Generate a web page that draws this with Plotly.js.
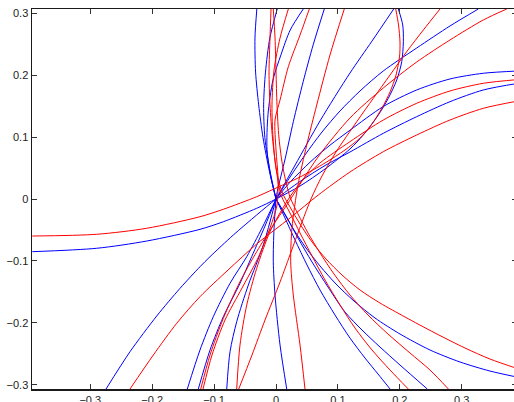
<!DOCTYPE html>
<html>
<head>
<meta charset="utf-8">
<script src="https://cdn.plot.ly/plotly-3.0.1.min.js"></script>
<style>
html,body{margin:0;padding:0;overflow:hidden;background:#fff;}
#chart{width:520px;height:412px;}
</style>
</head>
<body>
<div id="chart"></div>
<script>
// ---- tick values ----
const xTicks = [-0.3, -0.2, -0.1, 0, 0.1, 0.2, 0.3];
const yTicks = [-0.3, -0.2, -0.1, 0, 0.1, 0.2, 0.3];

// ---- blue curves ----
const bLx = [-0.3937, -0.2897, -0.2089, -0.1228, -0.0851, -0.0312, 0, 0.0388, 0.0792, 0.1195, 0.1410, 0.1653, 0.1814, 0.1950, 0.2031, 0.2057, 0.2047, 0.1976];
const bLy = [-0.0851, -0.0796, -0.0679, -0.0490, -0.0367, -0.0150, 0, 0.0210, 0.0485, 0.0808, 0.1034, 0.1357, 0.1627, 0.1922, 0.2218, 0.2541, 0.2811, 0.3069];
const bAx = [-0.2746, -0.2359, -0.1927, -0.1551, -0.1228, -0.1066, -0.0690, -0.0312, 0, 0.0388, 0.0792, 0.1195, 0.1733, 0.2273, 0.2811, 0.3349, 0.392];
const bAy = [-0.3069, -0.2467, -0.1890, -0.1443, -0.1094, -0.0932, -0.0582, -0.0258, 0, 0.0283, 0.0541, 0.0759, 0.1061, 0.1330, 0.1572, 0.1761, 0.1870];
const bBx = [0, 0.0226, 0.0549, 0.0872, 0.1195, 0.1733, 0.2273, 0.2811, 0.3349, 0.392];
const bBy = [0, 0.0271, 0.0594, 0.0869, 0.1111, 0.1494, 0.1761, 0.1939, 0.2031, 0.2068];
const bCx = [0, 0.0226, 0.0468, 0.0743, 0.1034, 0.1357, 0.1733, 0.2273, 0.2811, 0.3268];
const bCy = [0, 0.0355, 0.0711, 0.1082, 0.1422, 0.1745, 0.2068, 0.2439, 0.2795, 0.3069];
const bDx = [0, 0.031, 0.071, 0.1195, 0.155, 0.1901];
const bDy = [0, 0.055, 0.126, 0.2035, 0.255, 0.3069];
const bEx = [0, 0.002, 0.015, 0.028, 0.044, 0.060, 0.078];
const bEy = [0, 0.012, 0.066, 0.125, 0.190, 0.249, 0.3069];
const bFx = [0, -0.008, -0.0145, -0.013, -0.005, 0.008, 0.023, 0.044];
const bFy = [0, 0.034, 0.079, 0.136, 0.192, 0.233, 0.273, 0.3069];
const bGx = [0, -0.010, -0.018, -0.020, -0.017, -0.010, 0.002];
const bGy = [0, 0.047, 0.099, 0.152, 0.205, 0.260, 0.3069];
const bHx = [0, -0.0105, -0.021, -0.028, -0.033, -0.034, -0.031];
const bHy = [0, 0.044, 0.099, 0.152, 0.205, 0.260, 0.3069];
const bIx = [0, -0.0226, -0.0473, -0.0743, -0.1013, -0.1228, -0.1433];
const bIy = [0, -0.0468, -0.0932, -0.1362, -0.1901, -0.2439, -0.3069];
const bJx = [0, -0.0178, -0.0393, -0.0582, -0.0851, -0.1066, -0.1255];
const bJy = [0, -0.0436, -0.0932, -0.1362, -0.1901, -0.2439, -0.3069];
const bKx = [0, -0.0205, -0.0447, -0.0635, -0.0743, -0.0796];
const bKy = [0, -0.0743, -0.1389, -0.1982, -0.2467, -0.3069];
const bMx = [0, -0.0032, -0.0044, -0.0016, 0.0065, 0.0173];
const bMy = [0, -0.0473, -0.1013, -0.1551, -0.2359, -0.3069];
const bNx = [0, 0.0145, 0.0307, 0.0501, 0.0711, 0.0953, 0.1195, 0.1438, 0.1648, 0.1842];
const bNy = [0, -0.0307, -0.0662, -0.1066, -0.1470, -0.1874, -0.2246, -0.2569, -0.2827, -0.3069];
const bOx = [0, 0.0162, 0.0355, 0.0582, 0.0840, 0.1115, 0.1389, 0.1680, 0.2003, 0.2444];
const bOy = [0, -0.0275, -0.0630, -0.1018, -0.1422, -0.1826, -0.2116, -0.2391, -0.2682, -0.3069];
const bPx = [0, 0.0129, 0.0291, 0.0485, 0.0711, 0.0969, 0.1260, 0.1599, 0.2003, 0.2488, 0.2973, 0.3457, 0.392];
const bPy = [0, -0.0226, -0.0501, -0.0792, -0.1082, -0.1373, -0.1648, -0.1922, -0.2181, -0.2439, -0.2633, -0.2779, -0.2882];

// ---- red curves ----
const rLx = [-0.3937, -0.2897, -0.2089, -0.1228, -0.0851, -0.0312, -0.0044, 0.0388, 0.0792, 0.1115, 0.1357, 0.1551, 0.1712, 0.1842, 0.1939, 0.1995, 0.2003, 0.1979, 0.1934];
const rLy = [-0.0598, -0.0570, -0.0473, -0.0286, -0.0166, 0.0037, 0.0157, 0.0355, 0.0582, 0.0792, 0.0985, 0.1212, 0.1470, 0.1729, 0.2003, 0.2294, 0.2536, 0.2811, 0.3069];
const rAx = [-0.2359, -0.1982, -0.1604, -0.1228, -0.0775, -0.0312, 0.0226, 0.0683, 0.1195, 0.1733, 0.2273, 0.2811, 0.3349, 0.392];
const rAy = [-0.3069, -0.2520, -0.2008, -0.1578, -0.1147, -0.0727, -0.0307, 0.0065, 0.0436, 0.0764, 0.1034, 0.1276, 0.1465, 0.1585];
const rBx = [-0.0635, -0.0582, -0.0473, -0.0312, -0.0097, 0.0173, 0.0388, 0.0711, 0.1195, 0.1733, 0.2273, 0.2811, 0.3349, 0.392];
const rBy = [-0.3069, -0.2359, -0.1712, -0.1120, -0.0528, -0.0044, 0.0258, 0.0582, 0.0926, 0.1276, 0.1546, 0.1745, 0.1869, 0.1930];
const rCx = [0.1103, 0.0872, 0.0658, 0.0496, 0.0355, 0.0258, 0.0237, 0.0279, 0.0388, 0.0468];
const rCy = [0.3069, 0.2326, 0.1519, 0.0872, 0.0226, -0.0468, -0.1013, -0.1551, -0.2359, -0.3069];
const rDx = [0.3727, 0.3349, 0.2811, 0.2273, 0.1733, 0.1195, 0.0679, 0.0173, -0.0044, -0.0312, -0.0582, -0.0851, -0.1066, -0.1216];
const rDy = [0.3069, 0.2892, 0.2569, 0.2213, 0.1793, 0.1309, 0.0679, -0.0097, -0.0420, -0.0851, -0.1336, -0.1927, -0.2520, -0.3069];
const rEx = [0.0538, 0.0388, 0.0199, 0.0065, -0.0016, 0, 0.0032, 0.0016, -0.0097, -0.0291, -0.0549, -0.0824, -0.1034, -0.1179];
const rEy = [0.3069, 0.2649, 0.2137, 0.1599, 0.1276, 0.0792, 0.0339, -0.0097, -0.0468, -0.0953, -0.1438, -0.1955, -0.2520, -0.3069];
const rFx = [0.2649, 0.2380, 0.2111, 0.1842, 0.1572, 0.1304, 0.0969, 0.0743, 0.0565, 0.0420, 0.0254, 0.0065, -0.0178, -0.0388, -0.0609];
const rFy = [0.3069, 0.2730, 0.2380, 0.2003, 0.1627, 0.1249, 0.0759, 0.0372, 0, -0.0372, -0.0824, -0.1341, -0.1955, -0.2520, -0.3086];
const rGx = [-0.0081, -0.0097, -0.0113, -0.0097, -0.0057, 0, 0.0081, 0.0226, 0.0388, 0.0582, 0.0792, 0.1034, 0.1276, 0.1551, 0.1842, 0.2137];
const rGy = [0.3069, 0.2601, 0.2052, 0.1519, 0.0985, 0.0501, 0.0065, -0.0226, -0.0549, -0.0921, -0.1309, -0.1712, -0.2084, -0.2439, -0.2763, -0.3069];
const rHx = [-0.0044, -0.0016, 0, 0.0016, 0.0048, 0.0113, 0.0226, 0.0355, 0.0517, 0.0711, 0.0937, 0.1195, 0.1486, 0.1809, 0.2165, 0.2488, 0.2784];
const rHy = [0.3069, 0.2601, 0.2052, 0.1519, 0.0985, 0.0501, 0.0032, -0.0242, -0.0549, -0.0872, -0.1212, -0.1551, -0.1874, -0.2181, -0.2488, -0.2763, -0.3069];
const rIx = [0.0199, 0.0065, -0.0032, -0.0065, -0.0048, 0, 0.0097, 0.0226, 0.0388, 0.0582, 0.0808, 0.1066, 0.1357, 0.1680, 0.2084, 0.2569, 0.3053, 0.3457, 0.392];
const rIy = [0.3069, 0.2601, 0.2084, 0.1519, 0.0985, 0.0501, 0.0113, -0.0129, -0.0404, -0.0695, -0.0969, -0.1228, -0.1470, -0.1680, -0.1906, -0.2165, -0.2407, -0.2585, -0.2746];

const blueSeries = [[bLx,bLy],[bAx,bAy],[bBx,bBy],[bCx,bCy],[bDx,bDy],[bEx,bEy],[bFx,bFy],[bGx,bGy],[bHx,bHy],[bIx,bIy],[bJx,bJy],[bKx,bKy],[bMx,bMy],[bNx,bNy],[bOx,bOy],[bPx,bPy]];
const redSeries = [[rLx,rLy],[rAx,rAy],[rBx,rBy],[rCx,rCy],[rDx,rDy],[rEx,rEy],[rFx,rFy],[rGx,rGy],[rHx,rHy],[rIx,rIy]];

const traces = [];
function add(series, color){
  series.forEach(function(s){
    traces.push({x:s[0], y:s[1], type:'scatter', mode:'lines',
      line:{color:color, width:1, shape:'spline', smoothing:0.8},
      hoverinfo:'skip', showlegend:false});
  });
}
add(blueSeries, '#0000ff');
add(redSeries, '#ff0000');

function fmt(v){ return v === 0 ? '0' : (v < 0 ? '\u2212' + Math.abs(v) : String(v)); }

const axisCommon = {
  showgrid:false, zeroline:false, showline:true, mirror:'ticks',
  linecolor:'#1a1a1a', linewidth:1.5, ticks:'inside', ticklen:5, tickwidth:1,
  tickcolor:'#333', tickfont:{family:'Liberation Sans, Arial, sans-serif', size:11, color:'#222'},
  tickmode:'array'
};

const layout = {
  width:520, height:412,
  margin:{l:32, r:3, t:9, b:23},
  paper_bgcolor:'#fff', plot_bgcolor:'#fff',
  xaxis: Object.assign({}, axisCommon, {range:[-0.3942, 0.3893], tickvals:xTicks, ticktext:xTicks.map(fmt)}),
  yaxis: Object.assign({}, axisCommon, {range:[-0.3069, 0.3069], tickvals:yTicks, ticktext:yTicks.map(fmt)}),
  showlegend:false
};

Plotly.newPlot('chart', traces, layout, {staticPlot:true, displayModeBar:false});
</script>
</body>
</html>
